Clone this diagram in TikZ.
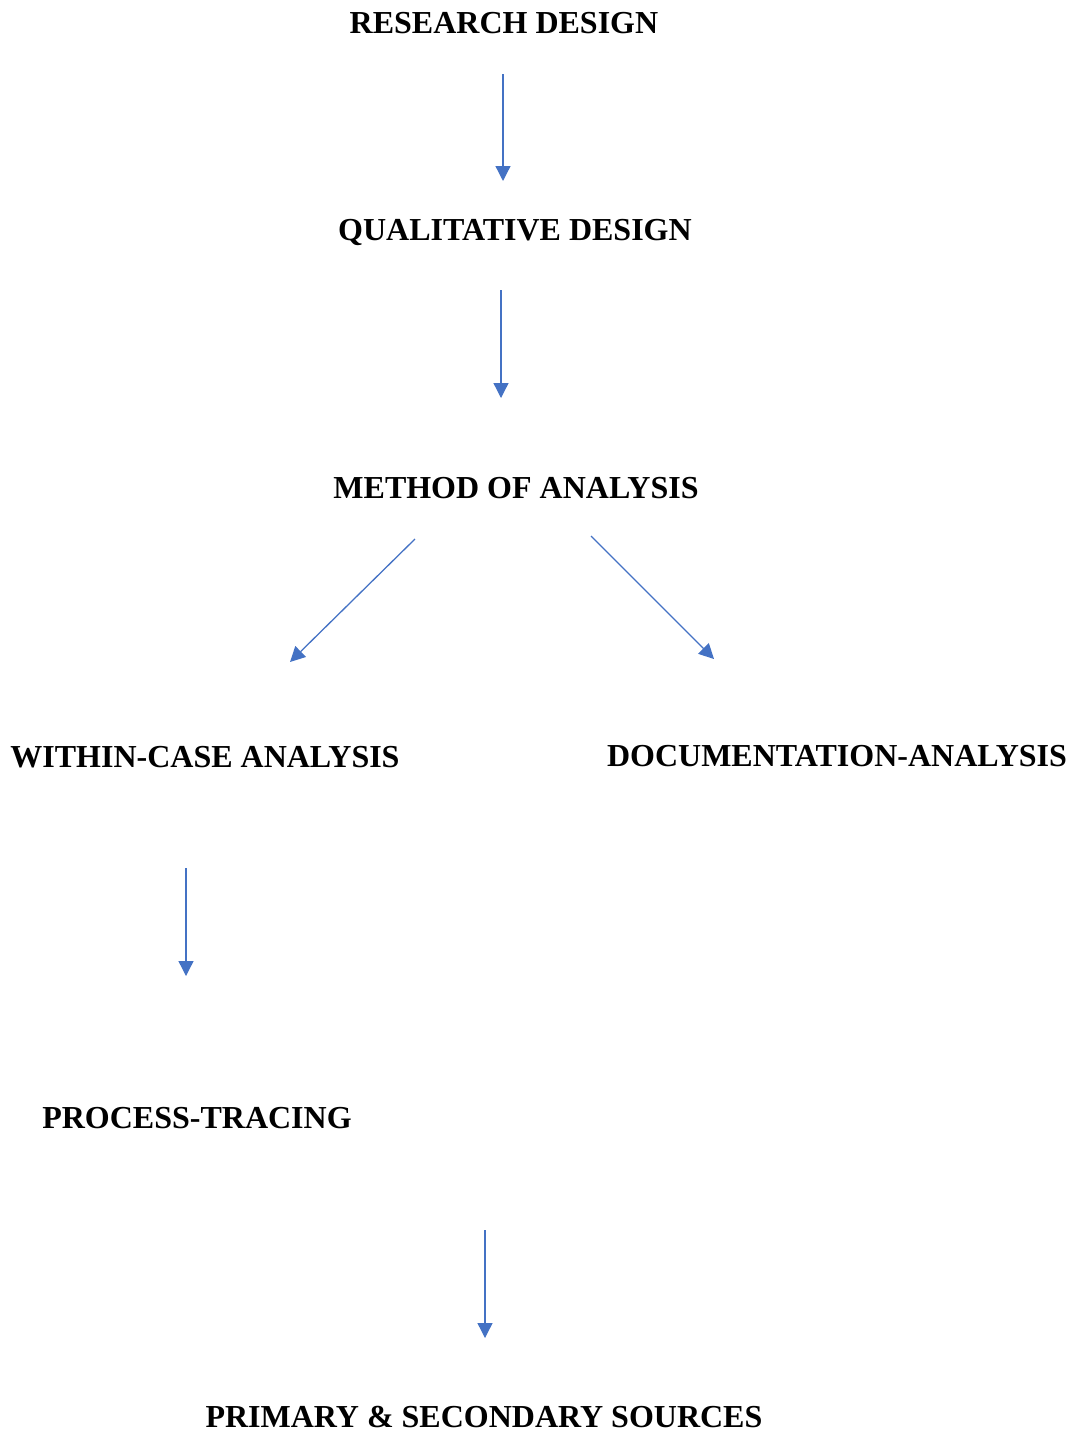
\documentclass[tikz,border=0pt]{standalone}
\usepackage{fontspec}
\setmainfont{Liberation Serif}
\usetikzlibrary{arrows.meta}
\definecolor{arrowblue}{HTML}{4472C4}
\begin{document}
\begin{tikzpicture}[x=1pt,y=-1pt,
  label/.style={inner sep=0pt,font=\fontsize{32}{36}\selectfont\bfseries,anchor=base},
  flow/.style={draw=arrowblue,line width=1.3pt,-{Triangle[width=15pt,length=15pt]}}]
\useasboundingbox (0,0) rectangle (1074,1432);
\node[label] (rd) at (504,33) {RESEARCH DESIGN};
\node[label] (qd) at (515,240) {QUALITATIVE DESIGN};
\node[label] (ma) at (516,498) {METHOD OF ANALYSIS};
\node[label] (wc) at (205,767) {WITHIN-CASE ANALYSIS};
\node[label] (da) at (837,766) {DOCUMENTATION-ANALYSIS};
\node[label] (pt) at (197,1128) {PROCESS-TRACING};
\node[label] (ps) at (484,1427) {PRIMARY \& SECONDARY SOURCES};
\coordinate (a1s) at (503,74);   \coordinate (a1e) at (503,181);
\coordinate (a2s) at (501,290);  \coordinate (a2e) at (501,398);
\coordinate (a3s) at (415,539);  \coordinate (a3e) at (290,662);
\coordinate (a4s) at (591,536);  \coordinate (a4e) at (714,659);
\coordinate (a5s) at (186,868);  \coordinate (a5e) at (186,976);
\coordinate (a6s) at (485,1230); \coordinate (a6e) at (485,1338);
\draw[flow] (a1s) -- (a1e);
\draw[flow] (a2s) -- (a2e);
\draw[flow] (a3s) -- (a3e);
\draw[flow] (a4s) -- (a4e);
\draw[flow] (a5s) -- (a5e);
\draw[flow] (a6s) -- (a6e);
\end{tikzpicture}
\end{document}
